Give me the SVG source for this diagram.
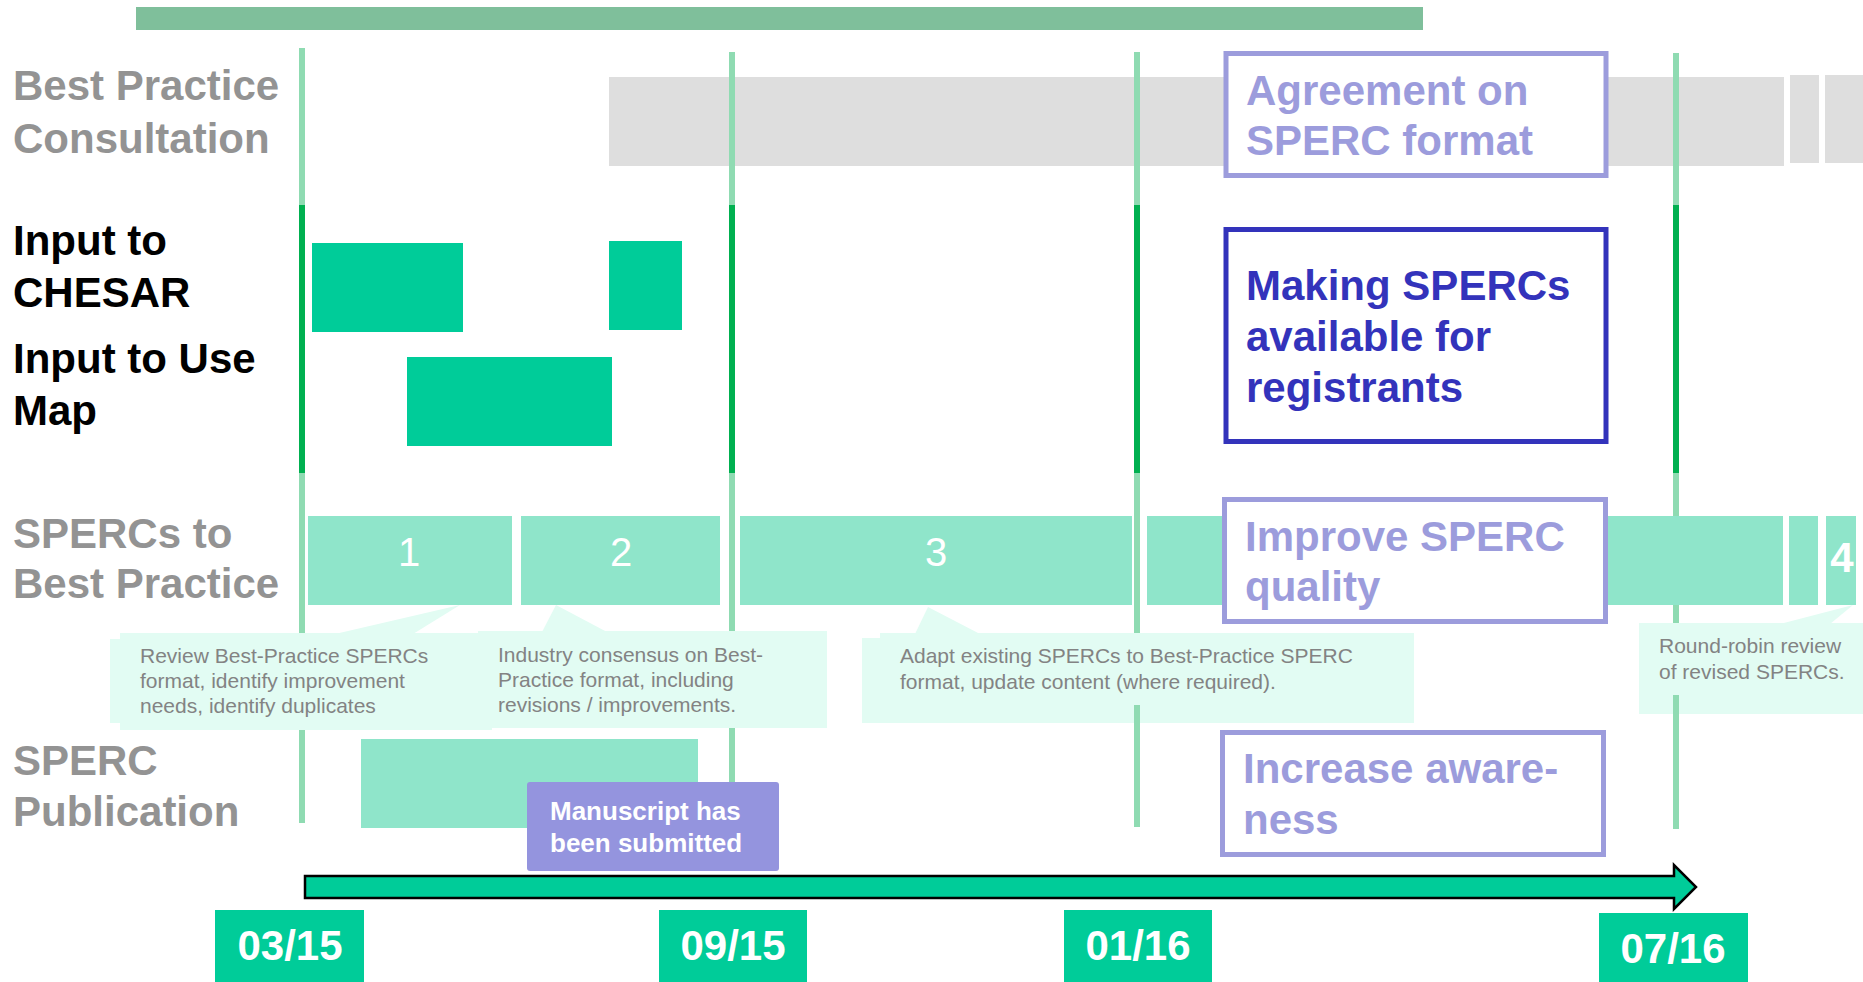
<svg xmlns="http://www.w3.org/2000/svg" width="1863" height="982" viewBox="0 0 1863 982">
<style>
.lbl{font-family:"Liberation Sans",Arial,sans-serif;font-weight:bold;font-size:42px}
.grey{fill:#939393}
.blk{fill:#000}
.lp{fill:#9C9CDC}
.db{fill:#3333BB}
.teal{fill:#8FE5CA}
.green{fill:#00CC99}
.call{fill:#E2FCF3}
.ct{font-family:"Liberation Sans",Arial,sans-serif;font-size:21px;fill:#838383}
.num{font-family:"Liberation Sans",Arial,sans-serif;font-size:40px;fill:#fff;text-anchor:middle}
.dt{font-family:"Liberation Sans",Arial,sans-serif;font-weight:bold;font-size:42px;fill:#fff;text-anchor:middle}
.vl{stroke:#8FDBB2;stroke-width:6}
.vd{stroke:#00B050;stroke-width:6}
.boxl{fill:#fff;stroke:#9C9CDC;stroke-width:5}
.boxd{fill:#fff;stroke:#3333BB;stroke-width:5}
</style>
<rect id="topbar" x="136" y="7" width="1287" height="23" fill="#7FBF9B"/>
<g id="row-labels">
<text class="lbl grey" x="13" y="100">Best Practice</text>
<text class="lbl grey" x="13" y="153">Consultation</text>
<text class="lbl blk" x="13" y="255">Input to</text>
<text class="lbl blk" x="13" y="307">CHESAR</text>
<text class="lbl blk" x="13" y="373">Input to Use</text>
<text class="lbl blk" x="13" y="425">Map</text>
<text class="lbl grey" x="13" y="548">SPERCs to</text>
<text class="lbl grey" x="13" y="598">Best Practice</text>
<text class="lbl grey" x="13" y="775">SPERC</text>
<text class="lbl grey" x="13" y="826">Publication</text>
</g>
<g id="consultation-band" fill="#DEDEDE">
<rect x="609" y="77" width="1175" height="89"/>
<rect x="1790" y="75" width="29" height="88"/>
<rect x="1825" y="75" width="38" height="88"/>
</g>
<g id="connectors">
<line class="vl" x1="302" y1="48" x2="302" y2="205"/><line class="vd" x1="302" y1="205" x2="302" y2="473"/><line class="vl" x1="302" y1="473" x2="302" y2="823"/>
<line class="vl" x1="732" y1="52" x2="732" y2="205"/><line class="vd" x1="732" y1="205" x2="732" y2="473"/><line class="vl" x1="732" y1="473" x2="732" y2="823"/>
<line class="vl" x1="1137" y1="52" x2="1137" y2="205"/><line class="vd" x1="1137" y1="205" x2="1137" y2="473"/><line class="vl" x1="1137" y1="473" x2="1137" y2="827"/>
<line class="vl" x1="1676" y1="53" x2="1676" y2="205"/><line class="vd" x1="1676" y1="205" x2="1676" y2="473"/><line class="vl" x1="1676" y1="473" x2="1676" y2="829"/>
</g>
<g id="chesar-usemap" class="green">
<rect x="312" y="243" width="151" height="89"/>
<rect x="609" y="241" width="73" height="89"/>
<rect x="407" y="357" width="205" height="89"/>
</g>
<g id="agreement">
<rect class="boxl" x="1226" y="53.5" width="380" height="122"/>
<text class="lbl lp" x="1246" y="105">Agreement on</text>
<text class="lbl lp" x="1246" y="155">SPERC format</text>
</g>
<g id="making">
<rect class="boxd" x="1226" y="229.5" width="380" height="212"/>
<text class="lbl db" x="1246" y="300">Making SPERCs</text>
<text class="lbl db" x="1246" y="351">available for</text>
<text class="lbl db" x="1246" y="402">registrants</text>
</g>
<g id="step1"><rect class="teal" x="308" y="516" width="204" height="89"/><text class="num" x="409" y="566">1</text></g>
<g id="step2"><rect class="teal" x="521" y="516" width="199" height="89"/><text class="num" x="621" y="566">2</text></g>
<g id="step3"><rect class="teal" x="740" y="516" width="392" height="89"/><text class="num" x="936" y="566">3</text></g>
<g id="step3b"><rect class="teal" x="1147" y="516" width="90" height="89"/><rect class="teal" x="1600" y="516" width="183" height="89"/><rect class="teal" x="1789" y="516" width="29" height="89"/></g>
<g id="step4"><rect class="teal" x="1826" y="516" width="30" height="89"/><text class="lbl" x="1842" y="572" fill="#fff" text-anchor="middle">4</text></g>
<g id="improve">
<rect class="boxl" x="1224.5" y="499.5" width="381" height="122"/>
<text class="lbl lp" x="1245" y="551">Improve SPERC</text>
<text class="lbl lp" x="1245" y="601">quality</text>
</g>
<g id="callout1" class="call">
<rect x="120" y="633" width="372" height="97"/><rect x="110" y="639" width="12" height="84"/><polygon points="335,634 460,605 413,634"/>
</g>
<g id="callout2" class="call">
<rect x="478" y="631" width="349" height="97"/><polygon points="542,632 556,605 607,632"/>
</g>
<g id="callout3" class="call">
<rect x="880" y="633" width="534" height="90"/><rect x="862" y="638" width="20" height="85"/><polygon points="915,634 928,607 980,634"/>
</g>
<g id="callout4" class="call">
<rect x="1639" y="623" width="224" height="91"/><polygon points="1780,624 1853,605 1830,624"/>
</g>
<g id="callout-texts">
<text class="ct" x="140" y="663">Review Best-Practice SPERCs</text>
<text class="ct" x="140" y="688">format, identify improvement</text>
<text class="ct" x="140" y="713">needs, identify duplicates</text>
<text class="ct" x="498" y="662">Industry consensus on Best-</text>
<text class="ct" x="498" y="687">Practice format, including</text>
<text class="ct" x="498" y="712">revisions / improvements.</text>
<text class="ct" x="900" y="663">Adapt existing SPERCs to Best-Practice SPERC</text>
<text class="ct" x="900" y="689">format, update content (where required).</text>
<text class="ct" x="1659" y="653">Round-robin review</text>
<text class="ct" x="1659" y="679">of revised SPERCs.</text>
</g>
<g id="connectors-lower">
<line class="vl" x1="1137" y1="705" x2="1137" y2="827"/>
<line class="vl" x1="1676" y1="695" x2="1676" y2="829"/>
</g>
<g id="publication"><rect class="teal" x="361" y="739" width="337" height="89"/></g>
<g id="manuscript">
<rect x="527" y="782" width="252" height="89" rx="3" fill="#9494DE"/>
<text class="lbl" x="550" y="820" fill="#fff" style="font-size:26px">Manuscript has</text>
<text class="lbl" x="550" y="852" fill="#fff" style="font-size:26px">been submitted</text>
</g>
<g id="increase">
<rect class="boxl" x="1222.5" y="732.5" width="381" height="122"/>
<text class="lbl lp" x="1243" y="783">Increase aware-</text>
<text class="lbl lp" x="1243" y="834">ness</text>
</g>
<g id="time-arrow">
<polygon points="305,876 1674,876 1674,865 1696,887 1674,909 1674,898 305,898" fill="#00CC99" stroke="#000" stroke-width="2.5"/>
</g>
<g id="date-0315"><rect class="green" x="215" y="910" width="149" height="72"/><text class="dt" x="290" y="960">03/15</text></g>
<g id="date-0915"><rect class="green" x="659" y="910" width="148" height="72"/><text class="dt" x="733" y="960">09/15</text></g>
<g id="date-0116"><rect class="green" x="1064" y="910" width="148" height="72"/><text class="dt" x="1138" y="960">01/16</text></g>
<g id="date-0716"><rect class="green" x="1599" y="913" width="149" height="69"/><text class="dt" x="1673" y="963">07/16</text></g>
</svg>
